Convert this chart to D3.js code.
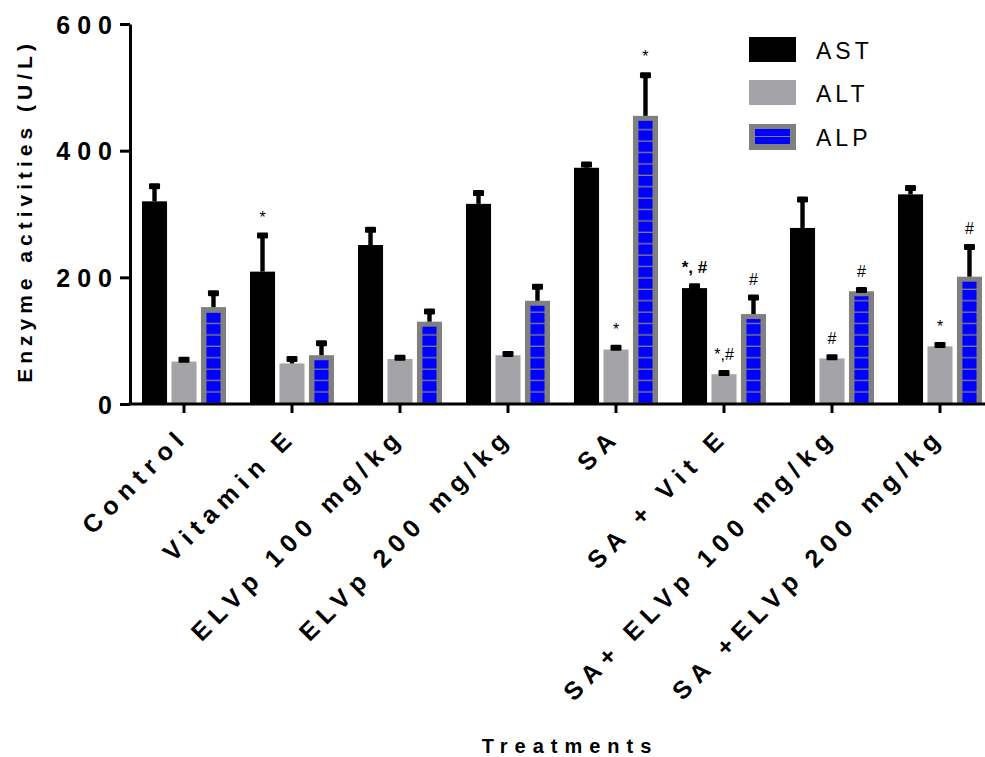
<!DOCTYPE html>
<html>
<head>
<meta charset="utf-8">
<script src="https://cdn.jsdelivr.net/npm/d3@7"></script>
<style>
  html, body { margin: 0; padding: 0; background: #fff; }
  svg { display: block; font-family: "Liberation Sans", Arial, sans-serif; }
</style>
</head>
<body>
<svg id="chart" width="985" height="757"></svg>
<script>
// Treatment groups and enzyme series
const categories = ["Control", "Vitamin E", "ELVp 100 mg/kg", "ELVp 200 mg/kg", "SA", "SA + Vit E", "SA+ ELVp 100 mg/kg", "SA +ELVp 200 mg/kg"];
const seriesNames = ["AST", "ALT", "ALP"];

// Mean activities (U/L)
const astValues = [320, 209, 251, 316, 373, 183, 278, 331];
const altValues = [67, 64, 71, 77, 86, 47, 72, 91];
const alpValues = [153, 77, 130, 163, 455, 142, 178, 201];

// Standard deviations
const astErrors = [24, 57, 24, 17, 5, 3, 45, 10];
const altErrors = [3, 7, 2, 2, 3, 2, 2, 2];
const alpErrors = [22, 19, 16, 22, 64, 26, 2, 47];

// Significance marks above bars
const astMarks = ["", "*", "", "", "", "*, #", "", ""];
const altMarks = ["", "", "", "", "*", "*,#", "#", "*"];
const alpMarks = ["", "", "", "", "*", "#", "#", "#"];

const yTicks = [0, 200, 400, 600];

const seriesData = [
  { name: "AST", values: astValues, errors: astErrors, marks: astMarks },
  { name: "ALT", values: altValues, errors: altErrors, marks: altMarks },
  { name: "ALP", values: alpValues, errors: alpErrors, marks: alpMarks }
];

const svg = d3.select("#chart");
const FONT = '"Liberation Sans", Arial, sans-serif';

const x0 = d3.scaleBand()
  .domain(categories)
  .range([130, 130 + 108 * categories.length])
  .paddingInner(0.222)
  .paddingOuter(0.111);

const x1 = d3.scaleBand()
  .domain(seriesNames)
  .range([0, x0.bandwidth()])
  .paddingInner(0.15)
  .paddingOuter(0);

const y = d3.scaleLinear().domain([0, 600]).range([404, 24]);

const black = "#000000";
const altGray = "#a3a3a8";
const alpGray = "#808080";
const alpBlue = "#0000ff";

// Cell pattern for ALP bars: blue blocks separated by thin grey lines, anchored at the baseline
const defs = svg.append("defs");
const cellPitch = 11.4;
const pat = defs.append("pattern")
  .attr("id", "alpCells")
  .attr("patternUnits", "userSpaceOnUse")
  .attr("x", 0)
  .attr("y", y(0))
  .attr("width", 50)
  .attr("height", cellPitch);
pat.append("rect").attr("width", 50).attr("height", cellPitch).attr("fill", alpGray);
pat.append("rect").attr("y", 0).attr("width", 50).attr("height", cellPitch - 1.3).attr("fill", alpBlue);

const barsG = svg.append("g");

seriesData.forEach(s => {
  categories.forEach((c, i) => {
    const bx = x0(c) + x1(s.name);
    const bw = x1.bandwidth();
    const top = y(s.values[i]);
    const h = y(0) - top;
    if (s.name === "AST") {
      barsG.append("rect").attr("x", bx).attr("y", top).attr("width", bw).attr("height", h).attr("fill", black);
    } else if (s.name === "ALT") {
      barsG.append("rect").attr("x", bx).attr("y", top).attr("width", bw).attr("height", h).attr("fill", altGray);
    } else {
      barsG.append("rect").attr("x", bx).attr("y", top).attr("width", bw).attr("height", h).attr("fill", alpGray);
      barsG.append("rect").attr("x", bx + 5.5).attr("y", top + 5).attr("width", bw - 11).attr("height", Math.max(0, h - 5)).attr("fill", "url(#alpCells)");
    }
    // error bar (upper only)
    const cx = bx + bw / 2;
    const eTop = y(s.values[i] + s.errors[i]);
    barsG.append("rect").attr("x", cx - 2.2).attr("y", eTop).attr("width", 4.4).attr("height", Math.max(0, top - eTop)).attr("fill", black);
    barsG.append("rect").attr("x", cx - 5.5).attr("y", eTop - 3).attr("width", 11).attr("height", 6).attr("rx", 1.2).attr("fill", black);
    // significance mark
    if (s.marks[i]) {
      const emphasised = s.name === "AST" && s.marks[i].includes("#");
      barsG.append("text")
        .attr("x", cx)
        .attr("y", eTop - 13)
        .attr("text-anchor", "middle")
        .attr("font-family", FONT)
        .attr("font-size", emphasised ? 17 : 16)
        .attr("font-weight", emphasised ? "bold" : "normal")
        .attr("fill", black)
        .text(s.marks[i]);
    }
  });
});

// Y axis
const yAxis = svg.append("g")
  .attr("transform", "translate(130,0)")
  .call(d3.axisLeft(y).tickValues(yTicks).tickSize(10).tickPadding(0).tickSizeOuter(0));
yAxis.select(".domain").attr("stroke", black).attr("stroke-width", 3);
yAxis.selectAll(".tick line").attr("stroke", black).attr("stroke-width", 3);
yAxis.selectAll(".tick text")
  .attr("x", -11)
  .attr("dy", "0.36em")
  .attr("font-family", FONT)
  .attr("font-size", 25)
  .attr("font-weight", "bold")
  .attr("letter-spacing", 7)
  .attr("fill", black);

// X axis
const xAxis = svg.append("g")
  .attr("transform", `translate(0,${y(0)})`)
  .call(d3.axisBottom(x0).tickSize(9).tickSizeOuter(0).tickFormat(""));
xAxis.select(".domain").attr("d", "M128.5,0H985").attr("stroke", black).attr("stroke-width", 3);
xAxis.selectAll(".tick line").attr("stroke", black).attr("stroke-width", 3);

// Rotated category labels
const xLabels = svg.append("g");
categories.forEach(c => {
  const tx = x0(c) + x0.bandwidth() / 2 + 6;
  const ty = 438;
  xLabels.append("text")
    .attr("transform", `translate(${tx},${ty}) rotate(-45)`)
    .attr("text-anchor", "end")
    .attr("font-family", FONT)
    .attr("font-size", 25)
    .attr("font-weight", "bold")
    .attr("letter-spacing", 7)
    .attr("fill", black)
    .text(c);
});

// Axis titles
svg.append("text")
  .attr("transform", "translate(32,211) rotate(-90)")
  .attr("text-anchor", "middle")
  .attr("font-family", FONT)
  .attr("font-size", 21)
  .attr("font-weight", "bold")
  .attr("letter-spacing", 5)
  .attr("fill", black)
  .text("Enzyme activities (U/L)");

svg.append("text")
  .attr("x", 570)
  .attr("y", 753)
  .attr("text-anchor", "middle")
  .attr("font-family", FONT)
  .attr("font-size", 20)
  .attr("font-weight", "bold")
  .attr("letter-spacing", 7)
  .attr("fill", black)
  .text("Treatments");

// Legend
const legend = svg.append("g");
const legendTop = [37, 80, 124];
seriesNames.forEach((name, k) => {
  const ly = legendTop[k];
  if (name === "AST") {
    legend.append("rect").attr("x", 749).attr("y", ly).attr("width", 47).attr("height", 25).attr("fill", black);
  } else if (name === "ALT") {
    legend.append("rect").attr("x", 749).attr("y", ly).attr("width", 47).attr("height", 25).attr("fill", altGray);
  } else {
    legend.append("rect").attr("x", 749).attr("y", ly).attr("width", 47).attr("height", 26).attr("fill", alpGray);
    legend.append("rect").attr("x", 755).attr("y", ly + 5).attr("width", 35).attr("height", 7).attr("fill", alpBlue);
    legend.append("rect").attr("x", 755).attr("y", ly + 13).attr("width", 35).attr("height", 7).attr("fill", alpBlue);
  }
  legend.append("text")
    .attr("x", 816)
    .attr("y", ly + 22)
    .attr("font-family", FONT)
    .attr("font-size", 23)
    .attr("letter-spacing", 4)
    .attr("fill", black)
    .text(name);
});
</script>
</body>
</html>
